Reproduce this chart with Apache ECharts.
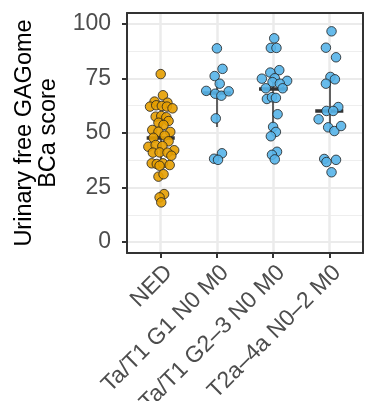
<!DOCTYPE html>
<html><head><meta charset="utf-8">
<script src="https://cdn.jsdelivr.net/npm/echarts@6/dist/echarts.min.js"></script>
<style>html,body{margin:0;padding:0;background:#fff}#c{width:365px;height:401px}</style>
</head><body><div id="c"></div>
<script>
// ---- data ----
const categories = ['NED', 'Ta/T1 G1 N0 M0', 'Ta/T1 G2\u20133 N0 M0', 'T2a\u20134a N0\u20132 M0'];
const yTicks = [0, 25, 50, 75, 100];
const yMinorLines = [12.5, 37.5, 62.5, 87.5];

const nedScores = [77, 67.3, 64.4, 63.9, 62.1, 62.7, 62.4, 62.1, 61.3, 57.5, 57.8, 57.2, 54.7, 55.5, 53.7, 51.4, 50.5, 50.6, 48.8, 47.8, 46.2, 43.7, 44.5, 44.0, 42.1, 41.0, 41.1, 41.0, 39.6, 36.1, 35.8, 36.1, 35.0, 35.3, 30.0, 31.1, 22.0, 20.5, 18.2];
const nedSpread = [0, 0.04, -0.11, 0.12, -0.19, -0.08, 0.02, 0.11, 0.21, -0.09, 0.01, 0.10, -0.04, 0.14, 0.05, -0.15, 0.17, -0.04, 0.07, -0.13, 0.14, -0.22, -0.09, 0.03, 0.24, -0.14, -0.02, 0.12, 0.19, -0.16, -0.07, 0.04, -0.02, 0.16, -0.04, 0.05, 0.06, -0.02, 0.01];

const g1Scores = [88.8, 79.4, 76.1, 72.6, 69.3, 68.0, 67.1, 69.1, 56.7, 40.7, 38.2, 37.7];
const g1Spread = [0, 0.10, -0.04, 0.05, -0.19, -0.03, 0.08, 0.21, -0.02, 0.09, -0.05, 0.02];

const g23Scores = [93.4, 89.0, 89.0, 78.8, 77.7, 74.9, 75.1, 73.9, 73.3, 72.6, 70.5, 70.5, 65.6, 66.4, 66.1, 58.6, 52.8, 50.5, 48.5, 41.4, 40.0, 37.9];
const g23Spread = [0.02, -0.04, 0.06, 0.11, -0.05, -0.20, 0.03, 0.25, -0.01, 0.12, -0.13, 0.17, -0.11, -0.02, 0.05, 0.08, 0.00, 0.05, -0.04, 0.07, -0.02, 0.03];

const t2Scores = [96.6, 89.1, 84.7, 75.7, 74.6, 72.6, 61.9, 60.1, 60.1, 56.3, 52.6, 50.9, 53.2, 38.1, 36.7, 37.7, 32.0];
const t2Spread = [0.04, -0.06, 0.12, 0.02, 0.10, -0.06, 0.16, -0.05, 0.07, -0.19, -0.02, 0.09, 0.21, -0.09, -0.05, 0.12, 0.04];

const groupScores = [nedScores, g1Scores, g23Scores, t2Scores];
const groupSpread = [nedSpread, g1Spread, g23Spread, t2Spread];
const groupColors = ['#E69F00', '#56B4E9', '#56B4E9', '#56B4E9'];

// ---- helpers ----
function quantile(arr, p) {
  const s = [...arr].sort((a, b) => a - b);
  const h = (s.length - 1) * p, lo = Math.floor(h), hi = Math.ceil(h);
  return s[lo] + (s[hi] - s[lo]) * (h - lo);
}
const FONT = '"Liberation Sans", Arial, Helvetica, sans-serif';
const catPositions = categories.map((c, i) => i + 1);

const gridLines = [];
yMinorLines.forEach(v => gridLines.push({ yAxis: v, lineStyle: { color: '#EEEEEE', width: 1, type: 'solid' } }));
yTicks.forEach(v => gridLines.push({ yAxis: v, lineStyle: { color: '#EBEBEB', width: 2, type: 'solid' } }));
catPositions.forEach(v => gridLines.push({ xAxis: v, lineStyle: { color: '#EBEBEB', width: 2.5, type: 'solid' } }));

const summaryLines = [];
groupScores.forEach((arr, i) => {
  const x = catPositions[i];
  const q1 = quantile(arr, 0.25), med = quantile(arr, 0.5), q3 = quantile(arr, 0.75);
  summaryLines.push([{ coord: [x, q1] }, { coord: [x, q3], lineStyle: { width: 1.5, color: '#333' } }]);
  summaryLines.push([{ coord: [x - 0.25, med] }, { coord: [x + 0.25, med], lineStyle: { width: 3.5, color: '#333' } }]);
});

const pointSeries = groupScores.map((arr, i) => ({
  type: 'scatter',
  name: categories[i],
  z: 5,
  silent: true,
  symbol: 'circle',
  symbolSize: 9.5,
  itemStyle: { color: groupColors[i], opacity: 0.9, borderColor: '#222', borderWidth: 0.9 },
  data: arr.map((v, k) => [catPositions[i] + groupSpread[i][k], v])
}));

const chart = echarts.init(document.getElementById('c'), null, { renderer: 'canvas' });
chart.setOption({
  animation: false,
  backgroundColor: '#fff',
  grid: { left: 127, top: 13, width: 236, height: 240, containLabel: false, outerBoundsMode: 'none', show: false },
  xAxis: [{
    type: 'value', min: 0.4, max: 4.6, z: 10,
    splitLine: { show: false },
    axisLine: { show: true, onZero: false, lineStyle: { color: '#333', width: 2 } },
    axisTick: { show: true, customValues: catPositions, length: 5, lineStyle: { color: '#333', width: 2 } },
    axisLabel: { customValues: catPositions, formatter: v => categories[Math.round(v) - 1], rotate: 45,
      align: 'right', verticalAlign: 'top', hideOverlap: false,
      fontSize: 23, color: '#4D4D4D', fontFamily: FONT, margin: 8 }
  }, {
    type: 'value', min: 0.4, max: 4.6, position: 'top', z: 10,
    splitLine: { show: false }, axisTick: { show: false }, axisLabel: { show: false },
    axisLine: { show: true, onZero: false, lineStyle: { color: '#333', width: 2 } }
  }],
  yAxis: [{
    type: 'value', min: -5, max: 105, z: 10,
    splitLine: { show: false },
    axisLine: { show: true, onZero: false, lineStyle: { color: '#333', width: 2 } },
    axisTick: { show: true, customValues: yTicks, length: 5, lineStyle: { color: '#333', width: 2 } },
    axisLabel: { customValues: yTicks, fontSize: 23, color: '#4D4D4D', fontFamily: FONT, margin: 16 },
    name: 'Urinary free GAGome\nBCa score', nameLocation: 'middle', nameGap: 66,
    nameTextStyle: { fontSize: 23.5, color: '#000', fontFamily: FONT, lineHeight: 24 }
  }, {
    type: 'value', min: -5, max: 105, position: 'right', z: 10,
    splitLine: { show: false }, axisTick: { show: false }, axisLabel: { show: false },
    axisLine: { show: true, onZero: false, lineStyle: { color: '#333', width: 2 } }
  }],
  series: [{
    type: 'scatter', data: [], z: 1, silent: true,
    markLine: { silent: true, symbol: ['none', 'none'], label: { show: false }, animation: false, data: gridLines }
  }, {
    type: 'scatter', data: [], z: 3, silent: true,
    markLine: { silent: true, symbol: ['none', 'none'], label: { show: false }, animation: false,
      lineStyle: { color: '#333', type: 'solid' }, data: summaryLines }
  }].concat(pointSeries)
});
</script></body></html>
